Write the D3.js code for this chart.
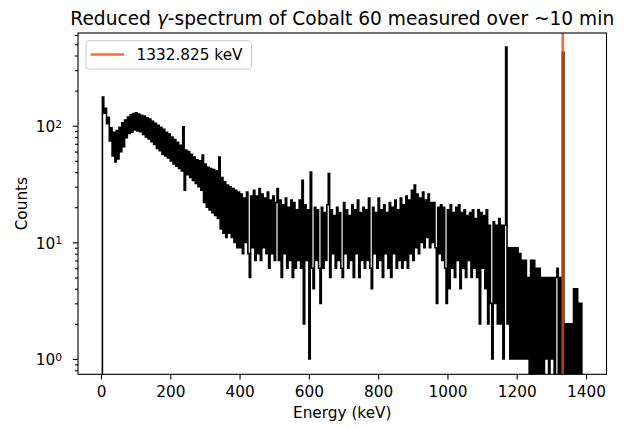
<!DOCTYPE html>
<html>
<head>
<meta charset="utf-8">
<script src="https://cdn.jsdelivr.net/npm/d3@7"></script>
<style>
	body { margin: 0; background: #fff; }
	svg { display: block; font-family: "DejaVu Sans", sans-serif; }
</style>
</head>
<body>
<svg id="chart" width="634" height="428"></svg>
<script>
// spectrum, 4 keV bins starting at 2 keV (counts per bin)
var binStart = 2, binWidth = 4;
var counts = [
	0, 176, 128, 141, 104, 118, 74, 96, 55, 88,
	49, 91, 52, 97, 60, 106, 66, 112, 79, 119,
	86, 124, 88, 127, 92, 129, 90, 126, 89, 123,
	84, 121, 80, 117, 77, 114, 73, 109, 69, 105,
	64, 101, 61, 97, 57, 93, 55, 88, 53, 85,
	50, 80, 47, 76, 45, 72, 43, 68, 41, 98,
	28, 62, 38, 60, 36, 57, 34, 54, 32, 51,
	30, 50, 28, 56, 22, 47, 20, 44, 19, 43,
	18, 42, 17, 41, 16, 54, 13, 36, 12, 33,
	11, 31, 12, 30, 11, 29, 10, 28, 9, 27,
	9, 26, 8, 24, 10, 27, 8, 5, 25, 9,
	28, 7, 25, 8, 29, 7, 26, 9, 24, 8,
	27, 6, 23, 8, 25, 7, 22, 29, 7, 23,
	5, 21, 8, 24, 6, 20, 7, 23, 5, 22,
	6, 19, 7, 23, 6, 34, 2, 21, 7, 19,
	1, 40, 6, 4, 20, 7, 19, 6, 3, 20,
	6, 18, 7, 21, 39, 5, 19, 8, 17, 6,
	20, 7, 18, 6, 5, 22, 8, 19, 6, 17,
	7, 21, 5, 19, 8, 23, 5, 18, 7, 20,
	6, 19, 7, 24, 6, 4, 20, 8, 18, 6,
	24, 7, 19, 5, 21, 8, 18, 6, 22, 5,
	20, 8, 23, 6, 19, 7, 24, 6, 21, 7,
	25, 6, 23, 8, 28, 7, 31, 9, 26, 8,
	24, 10, 27, 9, 23, 11, 26, 9, 22, 10,
	22, 9, 3, 20, 8, 21, 7, 20, 6, 3,
	19, 4, 21, 6, 18, 5, 20, 7, 21, 4,
	18, 6, 19, 5, 17, 7, 18, 5, 19, 6,
	16, 5, 19, 2, 18, 6, 17, 4, 19, 2,
	14, 3, 1, 15, 3, 14, 2, 16, 2, 14,
	1, 14, 472, 2, 9, 1, 9, 1, 9, 1,
	9, 1, 8, 1, 7, 1, 7, 1, 5, 0,
	7, 0, 7, 0, 6, 0, 6, 0, 5, 0,
	5, 1, 5, 0, 5, 1, 5, 0, 5, 6,
	0, 5, 0, 427, 0, 2, 0, 2, 0, 2,
	0, 4, 0, 4, 0, 3, 0, 3
];
var xTicks = [0, 200, 400, 600, 800, 1000, 1200, 1400];
var yTicks = [1, 10, 100];
var yMinorTicks = [0.8, 0.9, 2, 3, 4, 5, 6, 7, 8, 9, 20, 30, 40, 50, 60, 70, 80, 90, 200, 300, 400, 500, 600];
var lineEnergy = 1332.825;
var legendLabel = "1332.825 keV";

var margin = {left: 78, top: 33},
	width = 528.5,
	height = 341.3,
	fs = "15.3px";

var svg = d3.select("#chart");
var g = svg.append("g").attr("transform", `translate(${margin.left},${margin.top})`);

var x = d3.scaleLinear().domain([-66.4, 1459.2]).range([0, width]);
var y = d3.scaleLog().domain([0.739, 624]).range([height, 0]);

var spectrum = counts.map((c, i) => ({e: binStart + i * binWidth, c: c}));

svg.append("defs").append("clipPath").attr("id", "plotclip")
	.append("rect").attr("width", width).attr("height", height);

var line = d3.line()
	.curve(d3.curveStep)
	.x(d => x(d.e))
	.y(d => y(Math.max(d.c, 0.1)));  // zero counts fall off the log axis, like matplotlib

g.append("g").attr("clip-path", "url(#plotclip)")
	.call(p => p.append("path")
		.datum(spectrum)
		.attr("fill", "none")
		.attr("stroke", "#000")
		.attr("stroke-width", 1.6)
		.attr("d", line))
	.call(p => p.append("line")
		.attr("x1", x(lineEnergy)).attr("x2", x(lineEnergy))
		.attr("y1", 0).attr("y2", height)
		.attr("stroke", "orangered")
		.attr("stroke-opacity", 0.8)
		.attr("stroke-width", 2.6));

// axes
var xAxis = g.append("g")
	.attr("transform", `translate(0,${height})`)
	.call(d3.axisBottom(x).tickValues(xTicks).tickFormat(d3.format("d")).tickSize(5.2).tickPadding(6.2));

var yAxis = g.append("g")
	.call(d3.axisLeft(y).tickValues(yTicks).tickFormat("").tickSize(5.2));

g.append("g")
	.call(d3.axisLeft(y).tickValues(yMinorTicks).tickFormat("").tickSize(3))
	.call(a => a.select(".domain").remove());

[xAxis, yAxis].forEach(a => {
	a.select(".domain").remove();
	a.attr("font-family", null).attr("font-size", null);
	a.selectAll("text").attr("font-size", fs).attr("fill", "#000");
});
g.selectAll(".tick line").attr("stroke", "#000").attr("stroke-width", 1.1);

// y labels as 10 with a superscript exponent
yAxis.selectAll(".tick")
	.append("text")
	.attr("x", -16)
	.attr("dy", "0.37em")
	.attr("text-anchor", "end")
	.attr("font-size", fs)
	.attr("fill", "#000")
	.call(t => t.append("tspan").text("10"))
	.call(t => t.append("tspan")
		.attr("dy", "-0.4em")
		.attr("font-size", "10.7px")
		.text(d => Math.round(Math.log10(d))));

// frame
g.append("rect")
	.attr("width", width).attr("height", height)
	.attr("fill", "none")
	.attr("stroke", "#000")
	.attr("stroke-width", 1.1);

// title and axis labels
g.append("text")
	.attr("x", width / 2).attr("y", -8.5)
	.attr("text-anchor", "middle")
	.attr("font-size", "18.6px")
	.call(t => t.append("tspan").text("Reduced "))
	.call(t => t.append("tspan").attr("font-style", "italic").text("γ"))
	.call(t => t.append("tspan").text("-spectrum of Cobalt 60 measured over ~10 min"));

g.append("text")
	.attr("x", width / 2).attr("y", height + 44)
	.attr("text-anchor", "middle")
	.attr("font-size", fs)
	.text("Energy (keV)");

g.append("text")
	.attr("transform", `translate(-51,${height / 2}) rotate(-90)`)
	.attr("text-anchor", "middle")
	.attr("font-size", fs)
	.text("Counts");

// legend
var legend = g.append("g").attr("transform", "translate(8,7.7)");
legend.append("rect")
	.attr("width", 165.5).attr("height", 28.3)
	.attr("rx", 2.8)
	.attr("fill", "#fff").attr("fill-opacity", 0.8)
	.attr("stroke", "#cccccc").attr("stroke-width", 1);
legend.append("line")
	.attr("x1", 4.7).attr("x2", 38)
	.attr("y1", 13.8).attr("y2", 13.8)
	.attr("stroke", "orangered")
	.attr("stroke-opacity", 0.8)
	.attr("stroke-width", 2.6);
legend.append("text")
	.attr("x", 50.5).attr("y", 19.3)
	.attr("font-size", fs)
	.text(legendLabel);
</script>
</body>
</html>
